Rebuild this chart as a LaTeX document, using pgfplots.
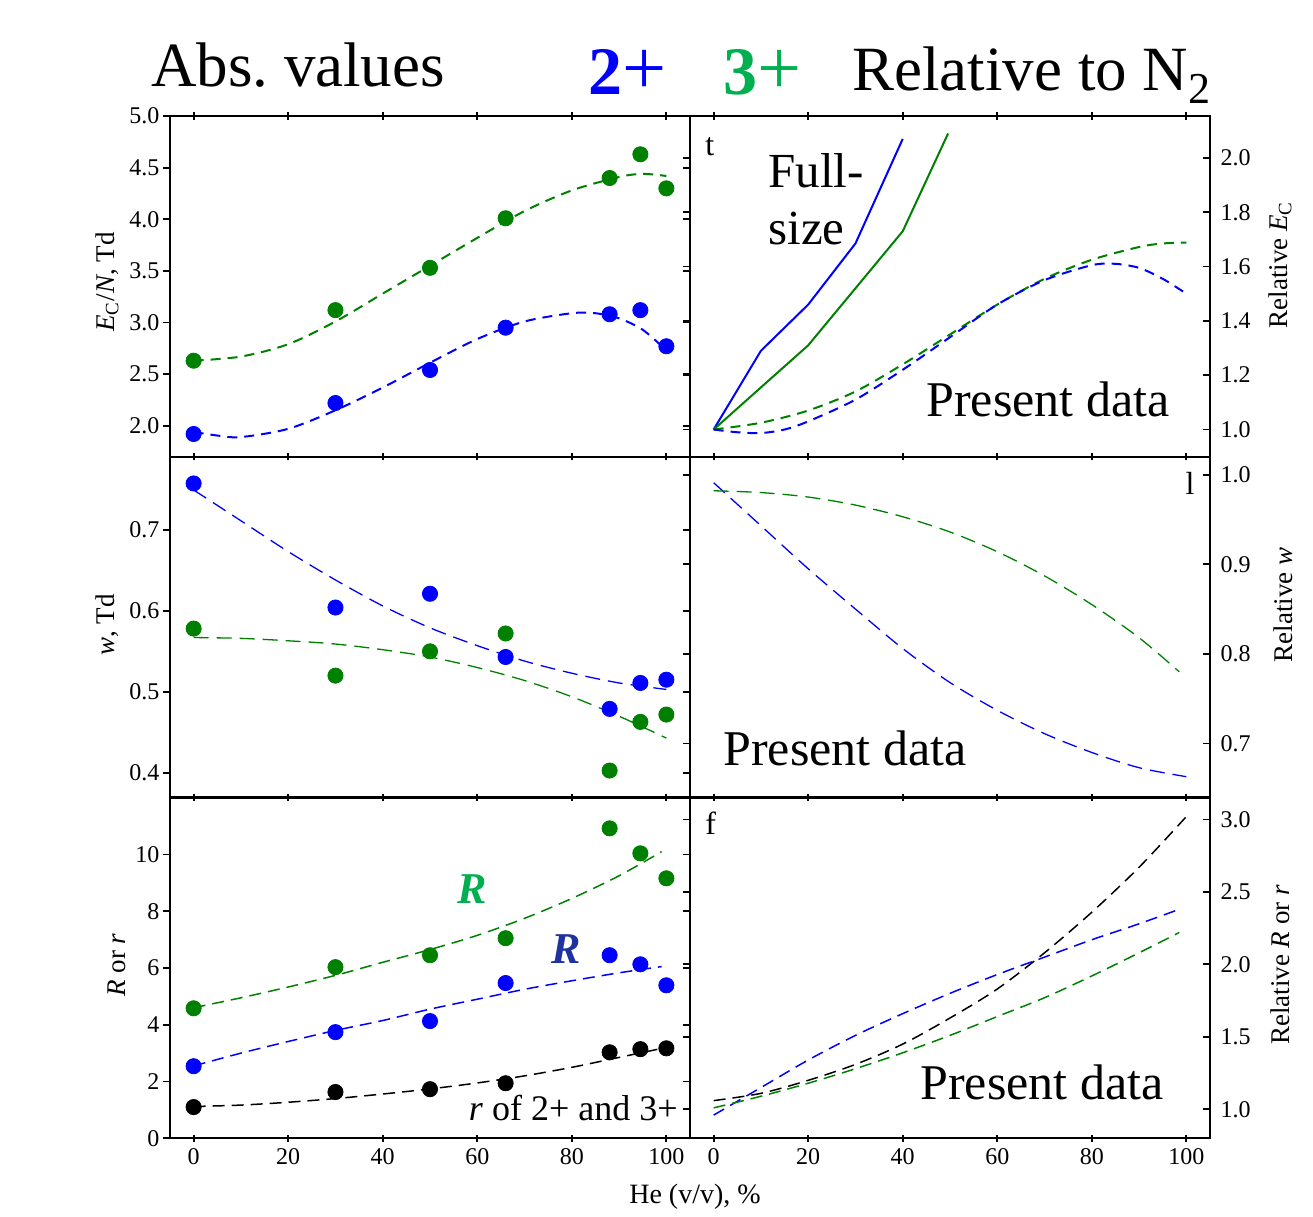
\documentclass[border=0pt]{standalone}
\usepackage{pgfplots}
\pgfplotsset{compat=1.18}
\usepackage{fontspec}
\setmainfont{Liberation Serif}
\definecolor{cB}{RGB}{0,0,255}
\definecolor{cG}{RGB}{0,128,0}
\definecolor{tG}{RGB}{0,176,80}
\definecolor{lB}{RGB}{30,50,160}
\pgfplotsset{
  panel/.style={
    scale only axis, width=260pt, height=170.3pt,
    xmin=-5, xmax=105, xtick={0,20,40,60,80,100},
    axis line style={line width=0.9pt},
    every tick/.style={black, line width=0.9pt},
    tick align=center, major tick length=3.6pt,
    ytick style={xshift=-1.8pt},
    tick label style={font=\fontsize{12}{14}\selectfont},
    /pgf/number format/assume math mode=true,
  },
  dec1/.style={yticklabel style={/pgf/number format/.cd, fixed, fixed zerofill, precision=1}},
  dashA/.style={dash pattern=on 5pt off 3.5pt, line width=1pt},
  dashB/.style={dash pattern=on 7.5pt off 4pt, line width=0.65pt},
  dashC/.style={dash pattern=on 6pt off 3.5pt, line width=0.75pt},
  pts/.style={only marks, mark=*, mark size=3.8pt},
}
\begin{document}
\begin{tikzpicture}
\path (0,0) rectangle (656.5pt,605.5pt);
% ---------------- top left
\begin{axis}[panel, dec1, at={(85pt,377.15pt)}, anchor=south west,
  ymin=1.7, ymax=5.0, ytick={2,2.5,3,3.5,4,4.5,5}, xticklabels={}]
\addplot[cG, dashA, smooth] coordinates {(0,2.63)(10,2.67)(20,2.79)(30,3.01)(40,3.28)(50,3.55)(60,3.82)(70,4.08)(80,4.28)(90,4.41)(95,4.44)(100,4.42)};
\addplot[cB, dashA, smooth] coordinates {(0,1.94)(5,1.905)(10,1.89)(20,1.97)(30,2.15)(40,2.37)(50,2.61)(60,2.84)(70,3.01)(80,3.09)(85,3.09)(90,3.04)(95,2.93)(100,2.73)};
\addplot[cG, pts] coordinates {(0,2.63)(30,3.12)(50,3.53)(66,4.01)(88,4.40)(94.5,4.63)(100,4.30)};
\addplot[cB, pts] coordinates {(0,1.92)(30,2.22)(50,2.54)(66,2.95)(88,3.08)(94.5,3.12)(100,2.77)};
\end{axis}
% ---------------- top right
\begin{axis}[panel, dec1, at={(345pt,377.15pt)}, anchor=south west,
  ymin=0.9, ymax=2.154, ytick={1,1.2,1.4,1.6,1.8,2}, xticklabels={}, yticklabel pos=right]
\addplot[cB, line width=1pt] coordinates {(0,1.0)(10,1.29)(20,1.46)(30,1.685)(40,2.07)};
\addplot[cG, line width=1pt] coordinates {(0,1.0)(20,1.31)(40,1.73)(49.6,2.09)};
\addplot[cG, dashA, smooth] coordinates {(0,1.0)(10,1.025)(20,1.07)(30,1.14)(40,1.24)(50,1.35)(60,1.46)(70,1.555)(80,1.625)(90,1.672)(95,1.685)(100,1.688)};
\addplot[cB, dashA, smooth] coordinates {(0,1.0)(5,0.99)(10,0.987)(15,1.0)(20,1.03)(30,1.11)(40,1.22)(50,1.34)(60,1.46)(70,1.55)(80,1.605)(85,1.61)(90,1.595)(95,1.555)(100,1.50)};
\end{axis}
% ---------------- middle left
\begin{axis}[panel, dec1, at={(85pt,206.85pt)}, anchor=south west,
  ymin=0.37, ymax=0.79, ytick={0.4,0.5,0.6,0.7}, xticklabels={}]
\addplot[cB, dashB, smooth] coordinates {(0,0.749)(10,0.711)(20,0.673)(30,0.638)(40,0.606)(50,0.579)(60,0.557)(70,0.538)(80,0.523)(90,0.511)(100,0.503)};
\addplot[cG, dashB, smooth] coordinates {(0,0.567)(10,0.566)(20,0.563)(30,0.559)(40,0.552)(50,0.543)(60,0.530)(70,0.514)(80,0.494)(90,0.470)(100,0.443)};
\addplot[cB, pts] coordinates {(0,0.757)(30,0.604)(50,0.621)(66,0.543)(88,0.479)(94.5,0.511)(100,0.515)};
\addplot[cG, pts] coordinates {(0,0.578)(30,0.520)(50,0.550)(66,0.572)(88,0.403)(94.5,0.463)(100,0.472)};
\end{axis}
% ---------------- middle right
\begin{axis}[panel, dec1, at={(345pt,206.85pt)}, anchor=south west,
  ymin=0.64, ymax=1.02, ytick={0.7,0.8,0.9,1.0}, xticklabels={}, yticklabel pos=right]
\addplot[cB, dashB, smooth] coordinates {(0,0.991)(10,0.943)(20,0.895)(30,0.85)(40,0.806)(50,0.768)(60,0.737)(70,0.711)(80,0.690)(90,0.673)(100,0.663)};
\addplot[cG, dashB, smooth] coordinates {(0,0.982)(10,0.980)(20,0.975)(30,0.966)(40,0.953)(50,0.936)(60,0.914)(70,0.887)(80,0.855)(90,0.818)(98.5,0.780)};
\end{axis}
% ---------------- bottom left
\begin{axis}[panel, at={(85pt,36.35pt)}, anchor=south west,
  ymin=0, ymax=12, ytick={0,2,4,6,8,10}]
\addplot[cG, dashC, smooth] coordinates {(0,4.6)(10,4.95)(20,5.33)(30,5.74)(40,6.2)(50,6.65)(60,7.15)(70,7.75)(80,8.45)(90,9.25)(99,10.1)};
\addplot[cB, dashC, smooth] coordinates {(0,2.55)(10,3.0)(20,3.41)(30,3.8)(40,4.15)(50,4.55)(60,4.9)(70,5.25)(80,5.55)(90,5.83)(99,6.05)};
\addplot[black, dashC, smooth] coordinates {(0,1.12)(10,1.17)(20,1.27)(30,1.4)(40,1.56)(50,1.74)(60,1.95)(70,2.2)(80,2.5)(90,2.85)(100,3.2)};
\addplot[cG, pts] coordinates {(0,4.58)(30,6.03)(50,6.45)(66,7.05)(88,10.92)(94.5,10.04)(100,9.16)};
\addplot[cB, pts] coordinates {(0,2.54)(30,3.74)(50,4.13)(66,5.47)(88,6.45)(94.5,6.13)(100,5.39)};
\addplot[black, pts] coordinates {(0,1.10)(30,1.63)(50,1.73)(66,1.94)(88,3.03)(94.5,3.14)(100,3.17)};
\end{axis}
% ---------------- bottom right
\begin{axis}[panel, dec1, at={(345pt,36.35pt)}, anchor=south west,
  ymin=0.8, ymax=3.15, ytick={1,1.5,2,2.5,3}, yticklabel pos=right]
\addplot[black, dashC, smooth] coordinates {(0,1.06)(10,1.11)(20,1.2)(30,1.31)(40,1.45)(50,1.63)(60,1.83)(70,2.08)(80,2.36)(90,2.67)(100,3.02)};
\addplot[cB, dashC, smooth] coordinates {(0,0.96)(10,1.15)(20,1.34)(30,1.51)(40,1.66)(50,1.8)(60,1.93)(70,2.05)(80,2.17)(90,2.28)(98.5,2.38)};
\addplot[cG, dashC, smooth] coordinates {(0,1.01)(10,1.09)(20,1.18)(30,1.28)(40,1.39)(50,1.51)(60,1.64)(70,1.77)(80,1.92)(90,2.08)(98.5,2.22)};
\end{axis}
% ---------------- titles and labels
\node[anchor=base, font=\fontsize{31.5}{36}\selectfont] at (149pt,562pt) {Abs.\ values};
\node[anchor=base, font=\fontsize{34}{38}\selectfont, text=cB, inner sep=0pt] at (314pt,558pt) {\textbf{2}\scalebox{1.15}{+}};
\node[anchor=base, font=\fontsize{34}{38}\selectfont, text=tG, inner sep=0pt] at (381.5pt,558pt) {\textbf{3}\scalebox{1.15}{+}};
\node[anchor=base west, font=\fontsize{31.5}{36}\selectfont, inner sep=0pt] at (426pt,560pt) {Relative to N\textsubscript{2}};
\node[anchor=base west, align=left, font=\fontsize{24.5}{28.5}\selectfont, inner sep=0pt] at (384pt,483pt) {Full-\\size};
\node[anchor=base, font=\fontsize{25}{30}\selectfont, inner sep=0pt] at (524pt,397pt) {Present data};
\node[anchor=base, font=\fontsize{25}{30}\selectfont, inner sep=0pt] at (422.5pt,222.5pt) {Present data};
\node[anchor=base, font=\fontsize{25}{30}\selectfont, inner sep=0pt] at (521pt,55.5pt) {Present data};
\node[anchor=base, font=\fontsize{22}{26}\selectfont\bfseries\itshape, text=tG, inner sep=0pt] at (236pt,153.5pt) {R};
\node[anchor=base, font=\fontsize{22}{26}\selectfont\bfseries\itshape, text=lB, inner sep=0pt] at (283pt,123.5pt) {R};
\node[anchor=base east, font=\fontsize{18}{22}\selectfont, inner sep=0pt] at (339pt,45pt) {\textit{r} of 2+ and 3+};
\node[anchor=base west, font=\fontsize{16}{19}\selectfont, inner sep=0pt] at (352.5pt,188pt) {f};
\node[anchor=base west, font=\fontsize{16}{19}\selectfont, inner sep=0pt] at (352.5pt,527.5pt) {t};
\node[anchor=base, font=\fontsize{16}{19}\selectfont, inner sep=0pt] at (595pt,358pt) {l};
\node[rotate=90, font=\fontsize{13.5}{16}\selectfont] at (53.5pt,464.5pt) {\textit{E}\textsubscript{C}/\textit{N}, Td};
\node[rotate=90, font=\fontsize{13.5}{16}\selectfont] at (53.5pt,293pt) {\textit{w}, Td};
\node[rotate=90, font=\fontsize{13.5}{16}\selectfont] at (58.5pt,123pt) {\textit{R} or \textit{r}};
\node[font=\fontsize{14}{17}\selectfont] at (347.5pt,7pt) {He (v/v), \%};
\node[rotate=90, font=\fontsize{13.5}{16}\selectfont] at (640pt,473pt) {Relative \textit{E}\textsubscript{C}};
\node[rotate=90, font=\fontsize{13.5}{16}\selectfont] at (641.5pt,303pt) {Relative \textit{w}};
\node[rotate=90, font=\fontsize{13.5}{16}\selectfont] at (640pt,123pt) {Relative \textit{R} or \textit{r}};
\end{tikzpicture}
\end{document}
